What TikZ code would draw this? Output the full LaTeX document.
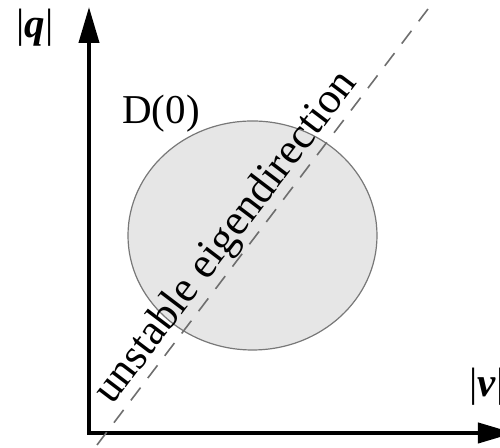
\documentclass[tikz,border=0pt]{standalone}
\usepackage{fontspec}
\setmainfont{Liberation Serif}
\usepackage{tikz}
\usetikzlibrary{arrows.meta, positioning, shapes.geometric}
\definecolor{cDisk}{RGB}{230,230,230}
\definecolor{cRim}{RGB}{120,120,120}
\definecolor{cDash}{RGB}{110,110,110}
\tikzset{
	axis/.style     ={line width=2pt, {Triangle[length=18pt, width=10pt]}-{Triangle[length=18pt, width=10pt]}},
	disk/.style     ={ellipse, draw=cRim, line width=0.6pt, fill=cDisk, minimum width=124.5pt, minimum height=114.5pt, inner sep=0pt},
	eigen/.style    ={draw=cDash, line width=0.8pt, dash pattern=on 8pt off 6pt},
	lbl/.style      ={font=\fontsize{20.5}{24}\selectfont, inner sep=0pt},
}

\begin{document}
\begin{tikzpicture}[x=0.5pt, y=0.5pt]
			\useasboundingbox (0,0) rectangle (500,448);
			% axes
			\coordinate (origin) at (89,15);
			\coordinate (qtip) at (89,441);
			\coordinate (vtip) at (514,15);
			\draw[axis] (qtip) -- (origin) -- (vtip);
			\node[lbl] (qlab) at (35,420) {|\textbf{\textit{q}}|};
			\node[lbl, anchor=west] (vlab) at (469,61) {|\textbf{\textit{v}}|};
			% initial set
			\node[disk] (D0) at (252.5,212.5) {};
			\node[lbl] (D0lab) at (161,334) {D(0)};
			% unstable direction
			\coordinate (ulow) at (97,3);
			\coordinate (uhigh) at (428,439);
			\draw[eigen] (ulow) -- (uhigh);
			\node[lbl, font=\fontsize{21.8}{24}\selectfont, rotate=52.8] (ulab) at (227,210) {unstable eigendirection};
		\end{tikzpicture}
\end{document}
